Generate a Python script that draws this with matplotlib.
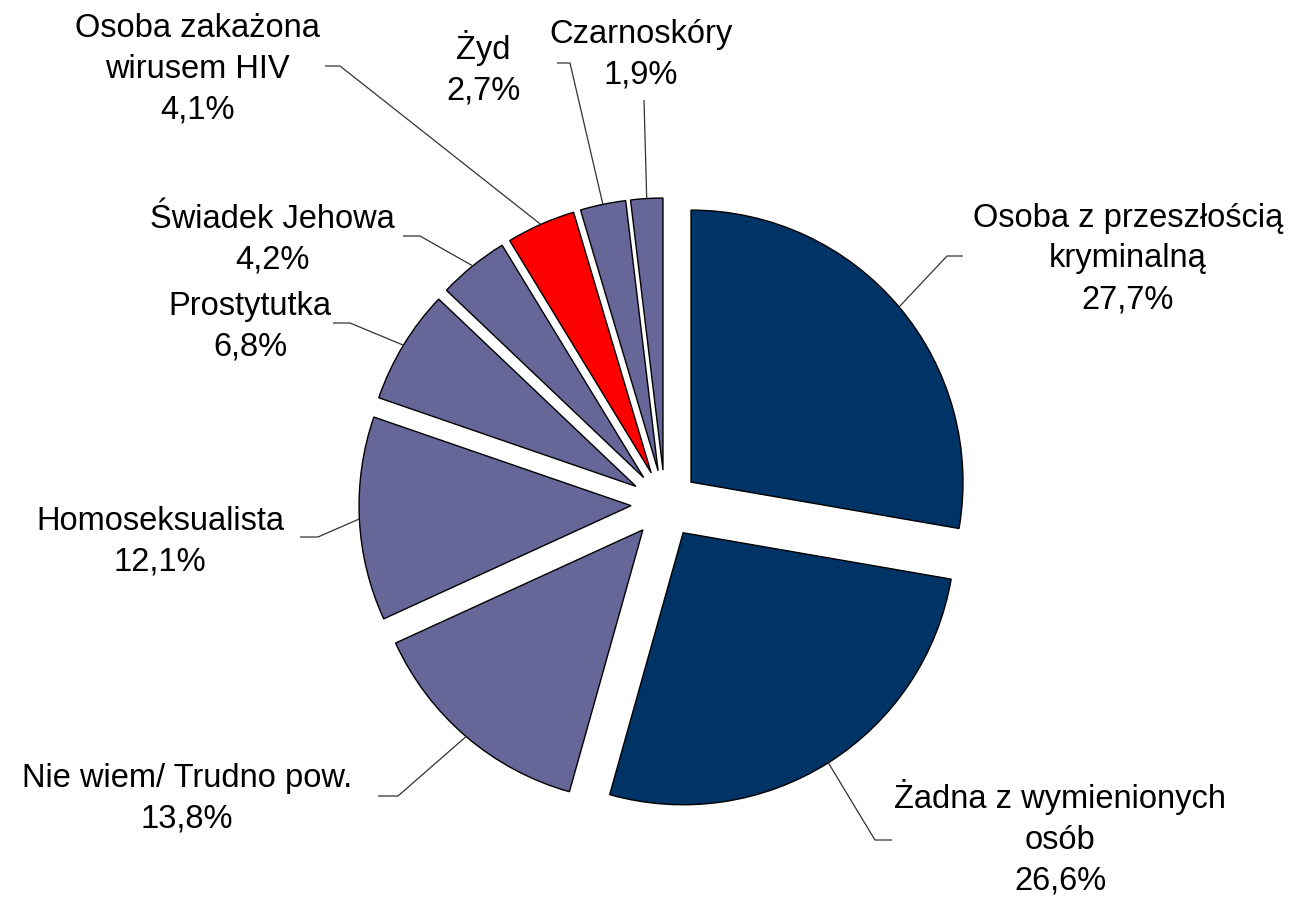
import numpy as np
import matplotlib
matplotlib.use("Agg")
import matplotlib.pyplot as plt

labels = ["Osoba z przeszłością\nkryminalną", "Żadna z wymienionych\nosób", "Nie wiem/ Trudno pow.",
          "Homoseksualista", "Prostytutka", "Świadek Jehowa", "Osoba zakażona\nwirusem HIV",
          "Żyd", "Czarnoskóry"]
values = [27.7, 26.6, 13.8, 12.1, 6.8, 4.2, 4.1, 2.7, 1.9]
pct_labels = ["27,7%", "26,6%", "13,8%", "12,1%", "6,8%", "4,2%", "4,1%", "2,7%", "1,9%"]

NAVY = "#003366"
PURPLE = "#666699"
RED = "#FF0000"
colors = [NAVY, NAVY, PURPLE, PURPLE, PURPLE, PURPLE, RED, PURPLE, PURPLE]

W, H = 1300, 899
CX, CY, R = 665, 504, 272  # pixel layout of the pie
EXPL = 0.125

def px(x, y):
    return ((x - CX) / R, (CY - y) / R)

fig = plt.figure(figsize=(W / 100, H / 100), dpi=100)
ax = fig.add_axes([0, 0, 1, 1])

wedges, _ = ax.pie(values, colors=colors, startangle=90, counterclock=False,
                   explode=[EXPL] * len(values), radius=1.0,
                   wedgeprops=dict(edgecolor="black", linewidth=1.0))
ax.set_xlim(-CX / R, (W - CX) / R)
ax.set_ylim(-(H - CY) / R, CY / R)
ax.set_aspect("auto")
ax.axis("off")

# label layout: text centre (px), elbow (px), end of horizontal (px)
layout = [
    ((1128, 259), (947, 256), (963, 256)),
    ((1060, 838), (875, 840), (892, 840)),
    ((187, 799), (398, 796), (378, 796)),
    ((160, 542), (318, 537), (300, 537)),
    ((250, 327), (350, 323), (333, 323)),
    ((272, 240), (420, 236), (403, 236)),
    ((197, 69), (340, 66), (325, 66)),
    ((483, 68), (570, 63), (557, 63)),
    ((641, 55), (644, 100), (644, 100)),
]

fs = 23.5
for w, lab, pct, (tpos, elbow, end) in zip(wedges, labels, pct_labels, layout):
    th = np.deg2rad((w.theta1 + w.theta2) / 2)
    cx, cy = w.center
    ax_, ay_ = cx + np.cos(th), cy + np.sin(th)
    ex, ey = px(*elbow)
    hx, hy = px(*end)
    ax.plot([ax_, ex, hx], [ay_, ey, hy], color="#333333", lw=0.9, solid_capstyle="butt")
    tx, ty = px(*tpos)
    ax.text(tx, ty, lab + "\n" + pct, ha="center", va="center", fontsize=fs,
            family="Liberation Sans", linespacing=1.4, color="black")

fig.savefig("out.png", dpi=100, facecolor="white")
